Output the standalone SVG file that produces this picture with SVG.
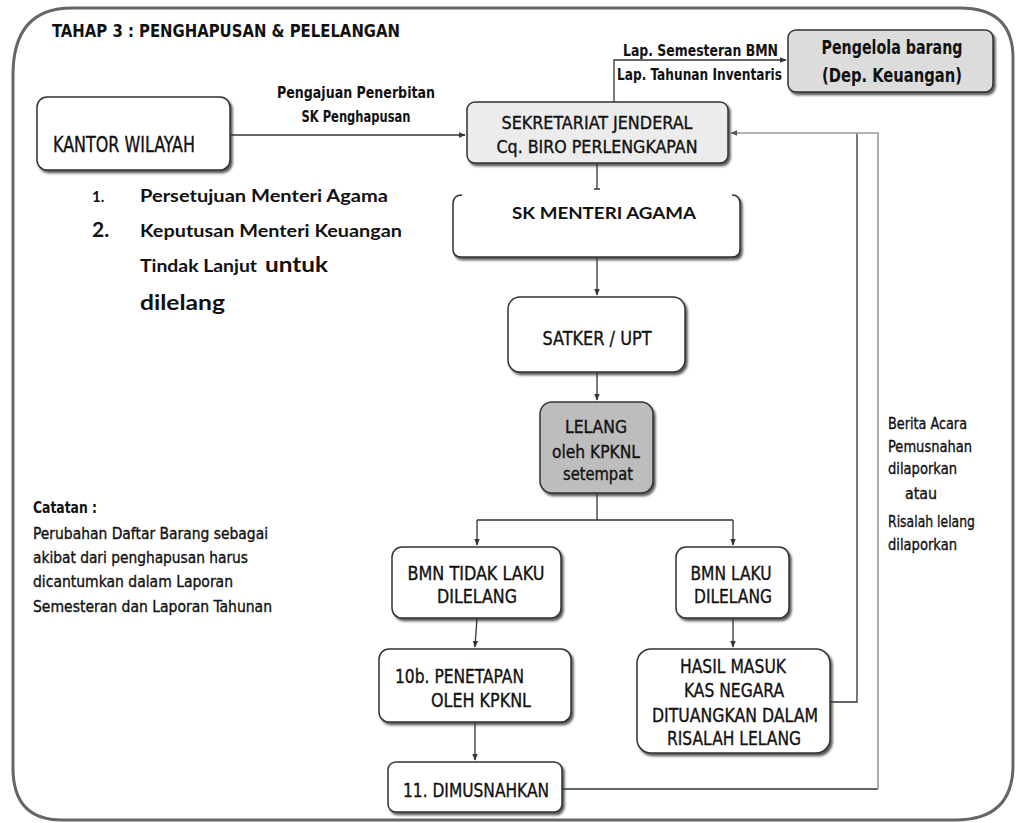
<svg xmlns="http://www.w3.org/2000/svg" width="1017" height="823" viewBox="0 0 1017 823">
<defs>
<filter id="sh" x="-10%" y="-10%" width="130%" height="140%">
<feDropShadow dx="2" dy="2.5" stdDeviation="1" flood-color="#333" flood-opacity="0.8"/>
</filter>
<marker id="ah" viewBox="0 0 10 10" refX="9" refY="5" markerWidth="7" markerHeight="7" orient="auto" markerUnits="userSpaceOnUse">
<path d="M0,1 L10,5 L0,9 Z" fill="#333"/>
</marker>
<marker id="ahg" viewBox="0 0 10 10" refX="9" refY="5" markerWidth="7" markerHeight="7" orient="auto" markerUnits="userSpaceOnUse">
<path d="M0,1 L10,5 L0,9 Z" fill="#555"/>
</marker>
</defs>
<style>
.box{stroke:#333;stroke-width:1.5;fill:#fff;filter:url(#sh)}
.n{font-family:"Liberation Sans Narrow","DejaVu Sans Condensed","Liberation Sans",sans-serif;fill:#111;stroke:#111;stroke-width:0.35}
.c{font-family:Lato,"Open Sans","Liberation Sans",sans-serif;font-weight:bold;fill:#111}
.b{font-weight:bold;stroke-width:0}
.ln{fill:none;stroke:#333;stroke-width:1.3}
.lg{fill:none;stroke:#999;stroke-width:1.6}
.m{text-anchor:middle}
</style>
<rect width="1017" height="823" fill="#fff"/>
<path d="M72,8 H960 Q1013,8 1013,58 V765 Q1013,820 955,820 H62 Q13,820 13,768 V75 Q13,8 72,8 Z" fill="none" stroke="#666" stroke-width="3"/>
<text class="n b" x="52" y="37" font-size="17" textLength="348" lengthAdjust="spacingAndGlyphs">TAHAP 3 : PENGHAPUSAN &amp; PELELANGAN</text>

<g id="connectors">
<path class="ln" d="M230,135 H465" marker-end="url(#ah)"/>
<path class="ln" d="M614,102 V60 H786" marker-end="url(#ah)"/>
<path class="ln" d="M597,163 V189 M594,189 H600"/>
<path class="ln" d="M597,257 V295" marker-end="url(#ah)"/>
<path class="ln" d="M597,372 V400" marker-end="url(#ah)"/>
<path class="ln" d="M597,493 V520 M477,520 H733"/>
<path class="ln" d="M477,520 V545" marker-end="url(#ah)"/>
<path class="ln" d="M733,520 V545" marker-end="url(#ah)"/>
<path class="ln" d="M477,618 L475,647" marker-end="url(#ah)"/>
<path class="ln" d="M733,618 V647" marker-end="url(#ah)"/>
<path class="ln" d="M475,722 V760" marker-end="url(#ah)"/>
<path class="ln" d="M830,702 H857 V133"/>
<path class="ln" d="M562,789 H878"/>
<path class="lg" d="M878,789 V133 H731" marker-end="url(#ahg)"/>
<text class="n b m" x="356" y="98" font-size="15" textLength="158" lengthAdjust="spacingAndGlyphs">Pengajuan Penerbitan</text>
<text class="n b m" x="356" y="122" font-size="15" textLength="109" lengthAdjust="spacingAndGlyphs">SK Penghapusan</text>
<text class="n b" x="623" y="56" font-size="15" textLength="155" lengthAdjust="spacingAndGlyphs">Lap. Semesteran BMN</text>
<text class="n b" x="617" y="80" font-size="15" textLength="165" lengthAdjust="spacingAndGlyphs">Lap. Tahunan Inventaris</text>
<text class="n" x="888" y="429" font-size="16" textLength="79" lengthAdjust="spacingAndGlyphs">Berita Acara</text>
<text class="n" x="888" y="452" font-size="16" textLength="84" lengthAdjust="spacingAndGlyphs">Pemusnahan</text>
<text class="n" x="888" y="474" font-size="16" textLength="69" lengthAdjust="spacingAndGlyphs">dilaporkan</text>
<text class="n" x="905" y="499" font-size="16" textLength="32" lengthAdjust="spacingAndGlyphs">atau</text>
<text class="n" x="888" y="527" font-size="16" textLength="87" lengthAdjust="spacingAndGlyphs">Risalah lelang</text>
<text class="n" x="888" y="550" font-size="16" textLength="69" lengthAdjust="spacingAndGlyphs">dilaporkan</text>
</g>

<g id="kantor-wilayah">
<rect class="box" x="37" y="97" width="193" height="73" rx="10"/>
<text class="n m" x="124" y="152" font-size="21" textLength="142" lengthAdjust="spacingAndGlyphs">KANTOR WILAYAH</text>
</g>

<g id="sekretariat">
<rect class="box" x="467" y="102" width="261" height="61" rx="8" style="fill:#ececec"/>
<text class="n m" x="597" y="129" font-size="18" textLength="191" lengthAdjust="spacingAndGlyphs">SEKRETARIAT JENDERAL</text>
<text class="n m" x="597" y="153" font-size="18" textLength="201" lengthAdjust="spacingAndGlyphs">Cq. BIRO PERLENGKAPAN</text>
</g>

<g id="pengelola">
<rect class="box" x="788" y="30" width="205" height="62" rx="8" style="fill:#dcdcdc"/>
<text class="n b m" x="892" y="54" font-size="19" textLength="141" lengthAdjust="spacingAndGlyphs">Pengelola barang</text>
<text class="n b m" x="892" y="82" font-size="19" textLength="140" lengthAdjust="spacingAndGlyphs">(Dep. Keuangan)</text>
</g>

<g id="sk-menteri">
<path class="box" d="M462,195 Q453,195 453,204 V249 Q453,257 461,257 H732 Q740,257 740,249 V204 Q740,195 732,195" style="fill:#fff"/>
<text class="c m" x="604" y="219" font-size="17" textLength="184" lengthAdjust="spacingAndGlyphs">SK MENTERI AGAMA</text>
</g>

<g id="satker">
<rect class="box" x="508" y="297" width="177" height="75" rx="12"/>
<text class="n m" x="597" y="345" font-size="20" textLength="109" lengthAdjust="spacingAndGlyphs">SATKER / UPT</text>
</g>

<g id="lelang">
<rect class="box" x="540" y="402" width="113" height="91" rx="12" style="fill:#bdbdbd"/>
<text class="n m" x="596" y="433" font-size="18" textLength="62" lengthAdjust="spacingAndGlyphs">LELANG</text>
<text class="n m" x="596" y="458" font-size="18" textLength="88" lengthAdjust="spacingAndGlyphs">oleh KPKNL</text>
<text class="n m" x="598" y="480" font-size="18" textLength="70" lengthAdjust="spacingAndGlyphs">setempat</text>
</g>

<g id="bmn-tidak-laku">
<rect class="box" x="392" y="547" width="169" height="71" rx="10"/>
<text class="n m" x="476" y="580" font-size="20" textLength="137" lengthAdjust="spacingAndGlyphs">BMN TIDAK LAKU</text>
<text class="n m" x="477" y="603" font-size="20" textLength="80" lengthAdjust="spacingAndGlyphs">DILELANG</text>
</g>

<g id="bmn-laku">
<rect class="box" x="676" y="547" width="113" height="71" rx="10"/>
<text class="n m" x="731" y="580" font-size="20" textLength="81" lengthAdjust="spacingAndGlyphs">BMN LAKU</text>
<text class="n m" x="733" y="603" font-size="20" textLength="78" lengthAdjust="spacingAndGlyphs">DILELANG</text>
</g>

<g id="penetapan">
<rect class="box" x="379" y="649" width="192" height="73" rx="10"/>
<text class="n" x="395" y="683" font-size="20" textLength="129" lengthAdjust="spacingAndGlyphs">10b. PENETAPAN</text>
<text class="n" x="431" y="707" font-size="20" textLength="100" lengthAdjust="spacingAndGlyphs">OLEH KPKNL</text>
</g>

<g id="hasil-masuk">
<rect class="box" x="637" y="649" width="193" height="104" rx="14"/>
<text class="n m" x="733" y="673" font-size="20" textLength="106" lengthAdjust="spacingAndGlyphs">HASIL MASUK</text>
<text class="n m" x="734" y="697" font-size="20" textLength="100" lengthAdjust="spacingAndGlyphs">KAS NEGARA</text>
<text class="n m" x="735" y="722" font-size="20" textLength="166" lengthAdjust="spacingAndGlyphs">DITUANGKAN DALAM</text>
<text class="n m" x="734" y="745" font-size="20" textLength="134" lengthAdjust="spacingAndGlyphs">RISALAH LELANG</text>
</g>

<g id="dimusnahkan">
<rect class="box" x="388" y="762" width="174" height="50" rx="8"/>
<text class="n" x="403" y="797" font-size="20" textLength="146" lengthAdjust="spacingAndGlyphs">11. DIMUSNAHKAN</text>
</g>

<g id="notes">
<text class="c" x="92" y="202" font-size="15">1.</text>
<text class="c" x="140" y="202" font-size="16.5" textLength="248" lengthAdjust="spacingAndGlyphs">Persetujuan Menteri Agama</text>
<text class="c" x="92" y="237" font-size="21">2.</text>
<text class="c" x="140" y="237" font-size="16.5" textLength="262" lengthAdjust="spacingAndGlyphs">Keputusan Menteri Keuangan</text>
<text class="c" x="140" y="272" font-size="16.5" textLength="117" lengthAdjust="spacingAndGlyphs">Tindak Lanjut</text>
<text class="c" x="265" y="272" font-size="21" textLength="63" lengthAdjust="spacingAndGlyphs">untuk</text>
<text class="c" x="140" y="310" font-size="21" textLength="85" lengthAdjust="spacingAndGlyphs">dilelang</text>
<text class="n b" x="33" y="513" font-size="16" textLength="64" lengthAdjust="spacingAndGlyphs">Catatan :</text>
<text class="n" x="33" y="539" font-size="16" textLength="235" lengthAdjust="spacingAndGlyphs">Perubahan Daftar Barang sebagai</text>
<text class="n" x="33" y="563" font-size="16" textLength="215" lengthAdjust="spacingAndGlyphs">akibat dari penghapusan harus</text>
<text class="n" x="33" y="587" font-size="16" textLength="200" lengthAdjust="spacingAndGlyphs">dicantumkan dalam Laporan</text>
<text class="n" x="33" y="612" font-size="16" textLength="239" lengthAdjust="spacingAndGlyphs">Semesteran dan Laporan Tahunan</text>
</g>
</svg>
